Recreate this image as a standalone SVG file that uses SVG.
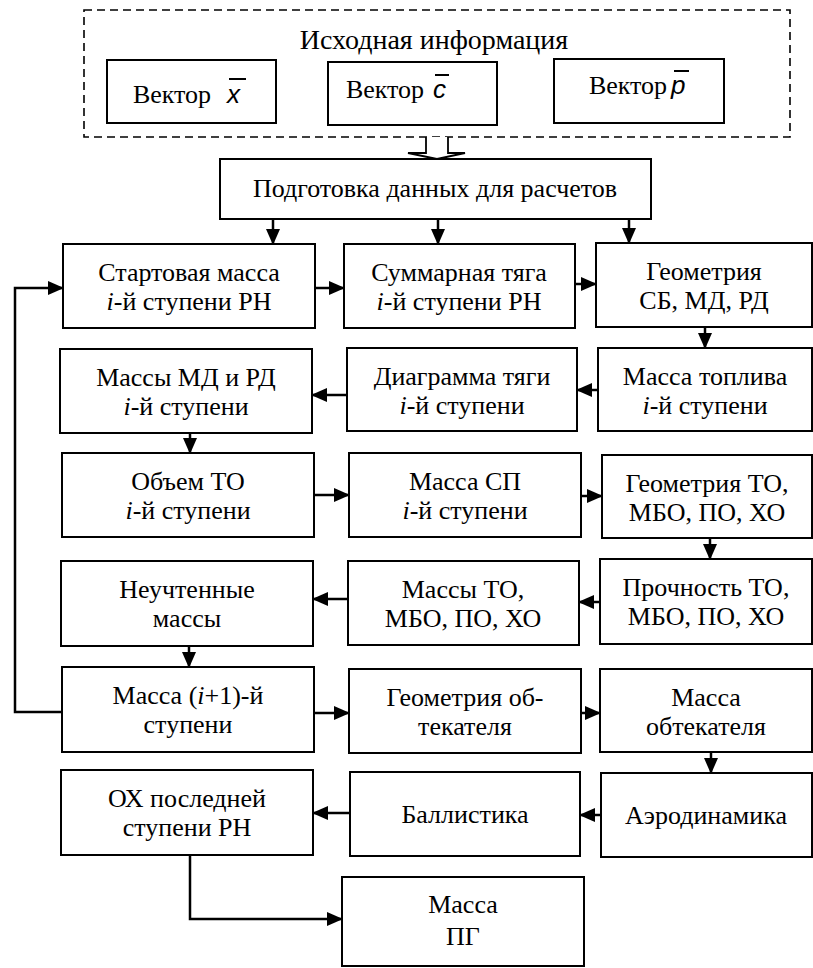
<svg xmlns="http://www.w3.org/2000/svg" width="813" height="968" viewBox="0 0 813 968">
<style>
text{font-family:'Liberation Serif','Times New Roman',Tinos,'DejaVu Serif',serif}
.b{fill:#fff;stroke:#000;stroke-width:2}
.t{font-size:26px;text-anchor:middle;fill:#000}
.v{font-family:'Liberation Sans',Arial,sans-serif;font-style:italic;font-size:26px;fill:#000}
.i{font-style:italic}
.ca{fill:none;stroke:#000;stroke-width:2.5;marker-end:url(#ah)}
</style>
<defs>
<marker id="ah" markerUnits="userSpaceOnUse" markerWidth="16" markerHeight="14" refX="15" refY="7" orient="auto">
<path d="M0,0 L16,7 L0,14 z" fill="#000"/>
</marker>
</defs>
<rect fill="#fff" width="813" height="968"/>

<g id="src">
<rect x="84" y="10" width="706" height="127" fill="none" stroke="#000" stroke-width="1.6" stroke-dasharray="8,5"/>
<text class="t" x="434" y="49" style="font-size:28px">Исходная информация</text>
</g>
<g id="vx">
<rect class="b" x="107" y="60" width="169" height="63"/>
<text class="t" x="172" y="103">Вектор</text>
<text class="v" x="227" y="103">x</text>
<line x1="229" y1="79" x2="246" y2="79" stroke="#000" stroke-width="2"/>
</g>
<g id="vc">
<rect class="b" x="328" y="62" width="169" height="63"/>
<text class="t" x="385" y="98">Вектор</text>
<text class="v" x="433" y="98">c</text>
<line x1="435" y1="75" x2="449" y2="75" stroke="#000" stroke-width="2"/>
</g>
<g id="vp">
<rect class="b" x="554" y="59" width="170" height="64"/>
<text class="t" x="628" y="94">Вектор</text>
<text class="v" x="671" y="94">p</text>
<line x1="674" y1="71" x2="689" y2="71" stroke="#000" stroke-width="2"/>
</g>

<g id="prep">
<rect class="b" x="220" y="159" width="431" height="60"/>
<text class="t" x="435" y="197">Подготовка данных для расчетов</text>
</g>

<g id="a1"><rect class="b" x="63" y="244" width="252" height="84"/>
<text class="t" x="189" y="281">Стартовая масса</text>
<text class="t" x="189" y="310"><tspan class="i">i</tspan>-й ступени РН</text></g>
<g id="a2"><rect class="b" x="344" y="244" width="231" height="84"/>
<text class="t" x="459" y="281">Суммарная тяга</text>
<text class="t" x="459" y="310"><tspan class="i">i</tspan>-й ступени РН</text></g>
<g id="a3"><rect class="b" x="596" y="243" width="216" height="84"/>
<text class="t" x="704" y="280">Геометрия</text>
<text class="t" x="704" y="309">СБ, МД, РД</text></g>

<g id="b1"><rect class="b" x="60" y="349" width="252" height="84"/>
<text class="t" x="186" y="386">Массы МД и РД</text>
<text class="t" x="186" y="415"><tspan class="i">i</tspan>-й ступени</text></g>
<g id="b2"><rect class="b" x="347" y="348" width="230" height="83"/>
<text class="t" x="462" y="385">Диаграмма тяги</text>
<text class="t" x="462" y="414"><tspan class="i">i</tspan>-й ступени</text></g>
<g id="b3"><rect class="b" x="598" y="348" width="214" height="83"/>
<text class="t" x="705" y="385">Масса топлива</text>
<text class="t" x="705" y="414"><tspan class="i">i</tspan>-й ступени</text></g>

<g id="c1"><rect class="b" x="62" y="453" width="252" height="84"/>
<text class="t" x="188" y="490">Объем ТО</text>
<text class="t" x="188" y="519"><tspan class="i">i</tspan>-й ступени</text></g>
<g id="c2"><rect class="b" x="349" y="453" width="232" height="84"/>
<text class="t" x="465" y="490">Масса СП</text>
<text class="t" x="465" y="519"><tspan class="i">i</tspan>-й ступени</text></g>
<g id="c3"><rect class="b" x="602" y="455" width="210" height="83"/>
<text class="t" x="707" y="492">Геометрия ТО,</text>
<text class="t" x="707" y="521">МБО, ПО, ХО</text></g>

<g id="d1"><rect class="b" x="61" y="561" width="252" height="85"/>
<text class="t" x="187" y="598">Неучтенные</text>
<text class="t" x="187" y="627">массы</text></g>
<g id="d2"><rect class="b" x="348" y="561" width="231" height="84"/>
<text class="t" x="463" y="598">Массы ТО,</text>
<text class="t" x="463" y="627">МБО, ПО, ХО</text></g>
<g id="d3"><rect class="b" x="600" y="559" width="212" height="85"/>
<text class="t" x="706" y="596">Прочность ТО,</text>
<text class="t" x="706" y="625">МБО, ПО, ХО</text></g>

<g id="e1"><rect class="b" x="62" y="667" width="252" height="85"/>
<text class="t" x="188" y="704">Масса (<tspan class="i">i</tspan>+1)-й</text>
<text class="t" x="188" y="733">ступени</text></g>
<g id="e2"><rect class="b" x="349" y="669" width="232" height="84"/>
<text class="t" x="465" y="706">Геометрия об-</text>
<text class="t" x="465" y="735">текателя</text></g>
<g id="e3"><rect class="b" x="600" y="669" width="212" height="83"/>
<text class="t" x="706" y="706">Масса</text>
<text class="t" x="706" y="735">обтекателя</text></g>

<g id="f1"><rect class="b" x="61" y="770" width="252" height="85"/>
<text class="t" x="187" y="807">ОХ последней</text>
<text class="t" x="187" y="836">ступени РН</text></g>
<g id="f2"><rect class="b" x="350" y="772" width="230" height="84"/>
<text class="t" x="465" y="823">Баллистика</text></g>
<g id="f3"><rect class="b" x="601" y="773" width="211" height="84"/>
<text class="t" x="706" y="824">Аэродинамика</text></g>

<g id="g"><rect class="b" x="342" y="877" width="242" height="89"/>
<text class="t" x="463" y="913">Масса</text>
<text class="t" x="463" y="945">ПГ</text></g>

<g id="connectors">
<path d="M426,137 V153 H408 L437,159 L465,153 H448 V137" fill="#fff" stroke="#000" stroke-width="1.8"/>
<line class="ca" x1="273" y1="219" x2="273" y2="244"/>
<line class="ca" x1="438" y1="219" x2="438" y2="244"/>
<line class="ca" x1="629" y1="219" x2="629" y2="243"/>
<line class="ca" x1="315" y1="288" x2="344" y2="288"/>
<line class="ca" x1="575" y1="284" x2="596" y2="284"/>
<line class="ca" x1="705" y1="327" x2="705" y2="348"/>
<line class="ca" x1="598" y1="390" x2="577" y2="390"/>
<line class="ca" x1="347" y1="395" x2="312" y2="395"/>
<line class="ca" x1="190" y1="433" x2="190" y2="453"/>
<line class="ca" x1="314" y1="495" x2="349" y2="495"/>
<line class="ca" x1="581" y1="496" x2="602" y2="496"/>
<line class="ca" x1="710" y1="538" x2="710" y2="559"/>
<line class="ca" x1="600" y1="602" x2="579" y2="602"/>
<line class="ca" x1="348" y1="599" x2="313" y2="599"/>
<line class="ca" x1="189" y1="646" x2="189" y2="667"/>
<line class="ca" x1="314" y1="713" x2="349" y2="713"/>
<line class="ca" x1="581" y1="713" x2="600" y2="713"/>
<line class="ca" x1="711" y1="752" x2="711" y2="773"/>
<line class="ca" x1="601" y1="815" x2="580" y2="815"/>
<line class="ca" x1="350" y1="813" x2="313" y2="813"/>
<polyline class="ca" points="62,712 15,712 15,288 63,288"/>
<polyline class="ca" points="190,855 190,919 342,919"/>
</g>
</svg>
